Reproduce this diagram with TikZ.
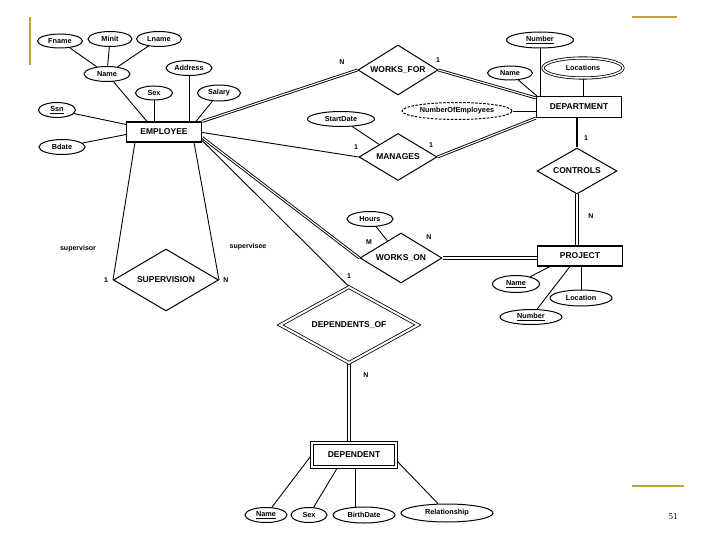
\documentclass[tikz,border=0pt]{standalone}
\usepackage{fontspec}
\setmainfont{Liberation Sans}
\newfontfamily\pagenumfont{Liberation Serif}
\usetikzlibrary{shapes.geometric,calc}
\definecolor{gold}{RGB}{192,162,62}
\pgfdeclarelayer{bg}
\pgfsetlayers{bg,main}
\begin{document}
\begin{tikzpicture}[x=1pt,y=-1pt,
  ent/.style={draw,line width=1.1pt,inner sep=0pt,font=\bfseries\fontsize{8.5}{9}\selectfont},
  rel/.style={diamond,shape aspect=2,draw,line width=1pt,inner sep=0pt,font=\bfseries\fontsize{8.5}{9}\selectfont},
  attr/.style={ellipse,draw,line width=1pt,inner sep=0pt,font=\bfseries\fontsize{7.3}{8}\selectfont},
  conn/.style={line width=0.9pt},
  thin/.style={line width=0.8pt},
  dbl/.style={double,line width=0.9pt,double distance=1.1pt},
  card/.style={font=\bfseries\fontsize{7}{7}\selectfont,inner sep=0pt},
  role/.style={font=\bfseries\fontsize{7}{7}\selectfont,inner sep=0pt},
  goldline/.style={draw=gold,line width=2.4pt}]
\useasboundingbox (0,0) rectangle (720,540);
\begin{pgfonlayer}{bg}
\fill[white] (0,0) rectangle (720,540);
\end{pgfonlayer}

% decorative lines and page number
\coordinate (g1a) at (30,17); \coordinate (g1b) at (30,65);
\coordinate (g2a) at (632,17); \coordinate (g2b) at (677,17);
\coordinate (g3a) at (632,486); \coordinate (g3b) at (684,486);
\draw[goldline] (g1a) -- (g1b);
\draw[goldline] (g2a) -- (g2b);
\draw[goldline] (g3a) -- (g3b);
\node[font=\pagenumfont\fontsize{9}{10}\selectfont] (pagenum) at (673,517) {51};

% EMPLOYEE and attributes
\node[attr,minimum width=45,minimum height=14] (fname) at (60,41) {Fname};
\node[attr,minimum width=44,minimum height=15] (minit) at (110,39) {Minit};
\node[attr,minimum width=45,minimum height=15] (lname) at (159,39) {Lname};
\node[attr,minimum width=46,minimum height=15] (ename) at (107,74) {Name};
\node[attr,minimum width=46,minimum height=15] (addr) at (189,68) {Address};
\node[attr,minimum width=37,minimum height=14] (esex) at (154,93) {Sex};
\node[attr,minimum width=43,minimum height=16] (salary) at (219,93) {Salary};
\node[attr,minimum width=37,minimum height=15] (ssn) at (57,110) {\underline{Ssn}};
\node[attr,minimum width=46,minimum height=15] (bdate) at (62,147) {Bdate};
\node[ent,minimum width=75,minimum height=20] (emp) at (164,132) {EMPLOYEE};

% relationships and department
\node[rel,minimum width=80,minimum height=50] (worksfor) at (398,70) {WORKS\_FOR};
\node[attr,minimum width=67,minimum height=15] (startdate) at (341,119) {StartDate};
\node[rel,minimum width=78,minimum height=47] (manages) at (398,157) {MANAGES};
\node[attr,dash pattern=on 2.5pt off 1.5pt,minimum width=110,minimum height=17] (numemp) at (457,111) {NumberOfEmployees};
\node[ent,minimum width=85,minimum height=21] (dept) at (579,107) {DEPARTMENT};
\node[attr,minimum width=67,minimum height=16] (dnum) at (540,40) {\underline{Number}};
\node[attr,minimum width=45,minimum height=14] (dname) at (510,73) {Name};
\node[attr,double,double distance=1.5pt,line width=0.8pt,minimum width=80,minimum height=20] (locs) at (583,68) {Locations};
\node[rel,minimum width=80,minimum height=46] (controls) at (577,171) {CONTROLS};

% project
\node[ent,minimum width=85,minimum height=20] (proj) at (580,256) {PROJECT};
\node[rel,minimum width=82,minimum height=50] (workson) at (401,258) {WORKS\_ON};
\node[attr,minimum width=46,minimum height=15] (hours) at (370,219) {Hours};
\node[attr,minimum width=47,minimum height=17] (pname) at (516,284) {\underline{Name}};
\node[attr,minimum width=62,minimum height=16] (ploc) at (581,298) {Location};
\node[attr,minimum width=62,minimum height=15] (pnum) at (531,317) {\underline{Number}};

% supervision
\node[rel,minimum width=105,minimum height=62] (superv) at (166,280) {SUPERVISION};
\node[role] (supervisor) at (78,249) {supervisor};
\node[role] (supervisee) at (248,247) {supervisee};

% dependents
\node[rel,double,double distance=2pt,line width=0.8pt,minimum width=138,minimum height=76] (depof) at (349,325) {DEPENDENTS\_OF};
\node[ent,double,double distance=2pt,line width=0.8pt,minimum width=84,minimum height=24] (dep) at (354,455) {DEPENDENT};
\node[attr,minimum width=42,minimum height=15] (dname2) at (266,515) {\underline{Name}};
\node[attr,minimum width=36,minimum height=15] (dsex) at (309,515) {Sex};
\node[attr,minimum width=62,minimum height=16] (bdate2) at (364,515) {BirthDate};
\node[attr,minimum width=92,minimum height=18] (relship) at (447,513) {Relationship};

% cardinalities
\node[card] (c1) at (342,62) {N};
\node[card] (c2) at (438,60) {1};
\node[card] (c3) at (356,147) {1};
\node[card] (c4) at (431,145) {1};
\node[card] (c5) at (586,138) {1};
\node[card] (c6) at (591,216) {N};
\node[card] (c7) at (369,242) {M};
\node[card] (c8) at (429,237) {N};
\node[card] (c9) at (106,280) {1};
\node[card] (c10) at (226,280) {N};
\node[card] (c11) at (349,276) {1};
\node[card] (c12) at (366,375) {N};

\begin{pgfonlayer}{bg}
% employee attribute lines
\draw[conn] (fname) -- (ename);
\draw[conn] (minit) -- (ename);
\draw[conn] (lname) -- (ename);
\draw[conn] (ename) -- ($(emp.north west)+(21,0)$);
\draw[conn] (esex.south) -- (esex.south |- emp.north);
\draw[conn] (addr.south) -- (addr.south |- emp.north);
\draw[conn] (salary) -- ($(emp.north west)+(70,0)$);
\draw[conn] (ssn) -- ($(emp.north west)+(0,3)$);
\draw[conn] (bdate) -- ($(emp.south west)+(0,-8)$);

% employee relationship lines
\draw[dbl] (emp.north east) -- (worksfor.west);
\draw[conn] ($(emp.north east)+(0,11)$) -- (manages.west);
\draw[dbl] ($(emp.north east)+(0,16)$) -- (workson.west);
\draw[conn] ($(emp.north east)+(0,19)$) -- (depof.north);
\draw[conn] ($(emp.south west)+(9,0)$) -- (superv.west);
\draw[conn] ($(emp.south east)+(-8,0)$) -- (superv.east);

% department lines
\draw[dbl] (worksfor.east) -- ($(dept.north west)+(0,2)$);
\draw[dbl] (manages.east) -- (dept.south west);
\draw[conn] (startdate) -- (manages);
\draw[conn] (numemp.east) -- (numemp.east -| dept.west);
\draw[conn] (dname) -- ($(dept.north west)+(1,0)$);
\draw[conn] (dnum.south) -- (dnum.south |- dept.north);
\draw[conn] (locs.south) -- (locs.south |- dept.north);
\draw[line width=1.6pt] (controls.north |- dept.south) -- (controls.north);
% CONTROLS -- PROJECT (double, two parallel strokes)
\draw[thin] ([xshift=-1.3pt]controls.south) -- ([xshift=-1.3pt]controls.south |- proj.north);
\draw[thin] ([xshift=1.3pt]controls.south) -- ([xshift=1.3pt]controls.south |- proj.north);

% project lines
\draw[thin] ([yshift=-1.3pt]workson.east) -- ([yshift=-1.3pt]workson.east -| proj.west);
\draw[thin] ([yshift=1.3pt]workson.east) -- ([yshift=1.3pt]workson.east -| proj.west);
\draw[conn] (hours) -- (workson);
\draw[conn] (pname) -- ($(proj.south west)+(13,0)$);
\draw[conn] (ploc.north) -- (ploc.north |- proj.south);
\draw[conn] (pnum) -- ($(proj.south west)+(33,0)$);

% dependent lines
\draw[thin] ([xshift=-1.3pt]depof.south) -- ([xshift=-1.3pt]depof.south |- dep.north);
\draw[thin] ([xshift=1.3pt]depof.south) -- ([xshift=1.3pt]depof.south |- dep.north);
\draw[conn] (dep.west) -- (dname2);
\draw[conn] ($(dep.south west)+(26,0)$) -- (dsex);
\draw[conn] ($(dep.south)+(1,0)$) -- ($(dep.south)+(1,40)$);
\draw[conn] ($(dep.south east)+(0,-7)$) -- (relship);
\end{pgfonlayer}
\end{tikzpicture}
\end{document}
